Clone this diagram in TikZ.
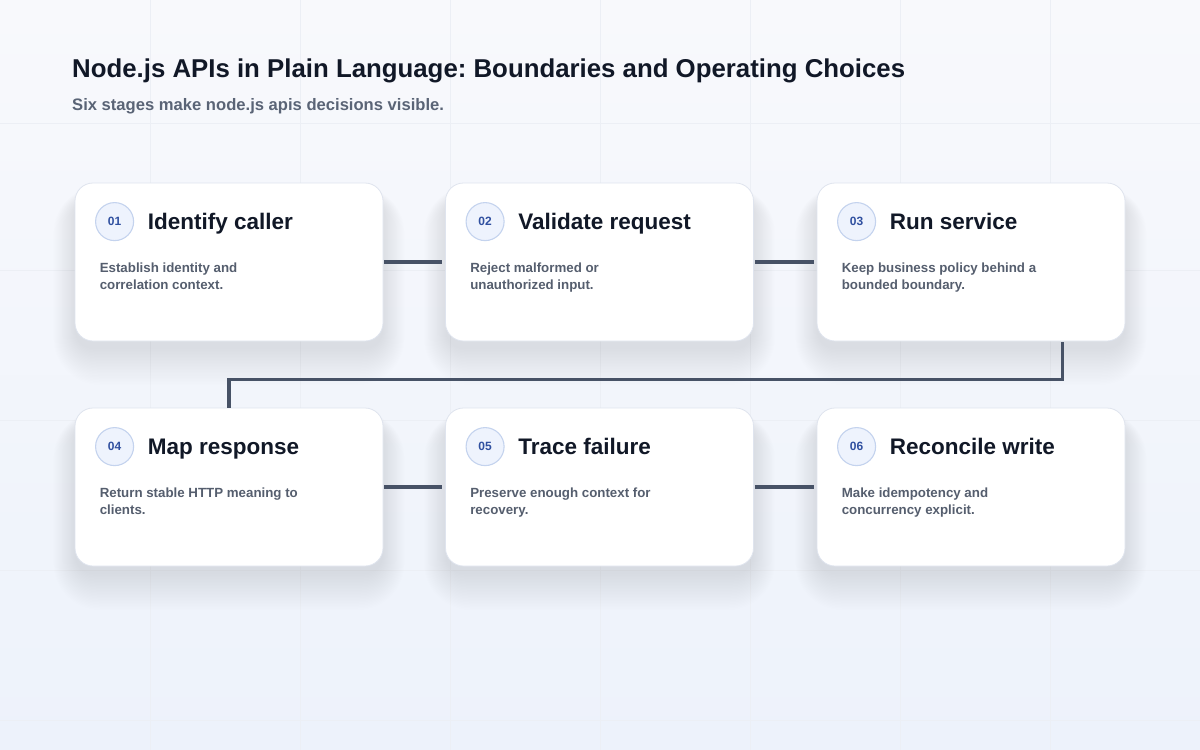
\documentclass[tikz,border=0pt]{standalone}
\usepackage{fontspec}
\setmainfont{Liberation Sans}
\frenchspacing
\definecolor{bgtop}{HTML}{F8F9FC}
\definecolor{bgbot}{HTML}{EDF2FB}
\definecolor{gridc}{HTML}{ECEFF5}
\definecolor{titlec}{HTML}{111827}
\definecolor{subc}{HTML}{5A6476}
\definecolor{descc}{HTML}{555E6E}
\definecolor{connc}{HTML}{475266}
\definecolor{numc}{HTML}{3050A0}
\definecolor{circfill}{HTML}{EEF3FD}
\definecolor{circline}{HTML}{C4D3EE}
\definecolor{cardline}{HTML}{DFE4EE}
\definecolor{shadowc}{HTML}{36425E}
\tikzset{
  card/.style={draw=cardline, line width=0.8pt, fill=white, rounded corners=18pt,
    minimum width=308pt, minimum height=158pt, inner sep=0pt},
  numcirc/.style={circle, draw=circline, line width=1.1pt, fill=circfill,
    minimum size=38pt, inner sep=0pt, text=numc, font=\bfseries\fontsize{12}{14}\selectfont},
  cardtitle/.style={anchor=base west, inner sep=0pt, text=titlec,
    font=\bfseries\fontsize{22.5}{26}\selectfont},
  desc/.style={anchor=base west, inner sep=0pt, text=descc,
    font=\bfseries\fontsize{13.3}{16}\selectfont},
  conn/.style={draw=connc, line width=3.6pt},
}
\begin{document}
\begin{tikzpicture}[x=1pt,y=-1pt]
\useasboundingbox (0,0) rectangle (1200,750);
\shade[top color=bgtop, bottom color=bgbot] (0,0) rectangle (1200,750);
\foreach \gx in {150,300,...,1050} \draw[gridc, line width=0.7pt] (\gx,0) -- (\gx,750);
\foreach \gy in {123,270,420,570,720} \draw[gridc, line width=0.7pt] (0,\gy) -- (1200,\gy);

% shadows
\foreach \cx/\cy in {229/262, 599.5/262, 971/262, 229/487, 599.5/487, 971/487} {
  \foreach \s in {0,1.5,...,36} {
    \fill[shadowc, fill opacity=0.0055, rounded corners={18pt+\s*0.8pt}]
      (\cx-154-\s*0.6, \cy-79+14-\s*0.3) rectangle (\cx+154+\s*0.6, \cy+79+8+\s*1.0);
  }
}

% title
\node[anchor=base west, inner sep=0pt, text=titlec, font=\bfseries\fontsize{25.8}{30}\selectfont]
  (title) at (72,77) {Node.js APIs in Plain Language: Boundaries and Operating Choices};
\node[anchor=base west, inner sep=0pt, text=subc, font=\bfseries\fontsize{16.6}{20}\selectfont]
  (subtitle) at (72,110) {Six stages make node.js apis decisions visible.};

% cards
\node[card] (c1) at (229,262) {};
\node[card] (c2) at (599.5,262) {};
\node[card] (c3) at (971,262) {};
\node[card] (c4) at (229,487) {};
\node[card] (c5) at (599.5,487) {};
\node[card] (c6) at (971,487) {};

\foreach \c/\n/\t/\da/\db in {
  c1/01/Identify caller/Establish identity and/correlation context.,
  c2/02/Validate request/Reject malformed or/unauthorized input.,
  c3/03/Run service/Keep business policy behind a/bounded boundary.,
  c4/04/Map response/Return stable HTTP meaning to/clients.,
  c5/05/Trace failure/Preserve enough context for/recovery.,
  c6/06/Reconcile write/Make idempotency and/concurrency explicit.} {
  \node[numcirc] (\c n) at ([xshift=40pt, yshift=-39pt]\c.north west) {\n};
  \node[cardtitle] (\c t) at ([xshift=73pt, yshift=-47pt]\c.north west) {\t};
  \node[desc] (\c a) at ([xshift=25pt, yshift=-90pt]\c.north west) {\da};
  \node[desc] (\c b) at ([xshift=25pt, yshift=-107pt]\c.north west) {\db};
}

% connectors
\draw[conn] ([xshift=1pt]c1.east) -- ([xshift=-3pt]c2.west);
\draw[conn] ([xshift=1pt]c2.east) -- ([xshift=-3pt]c3.west);
\draw[conn] ([xshift=1pt]c4.east) -- ([xshift=-3pt]c5.west);
\draw[conn] ([xshift=1pt]c5.east) -- ([xshift=-3pt]c6.west);
\coordinate (drop) at ([xshift=-63pt]c3.south east);
\draw[conn] ([yshift=-1pt]drop) -- ++(0,37) -| (c4.north);
\end{tikzpicture}
\end{document}
